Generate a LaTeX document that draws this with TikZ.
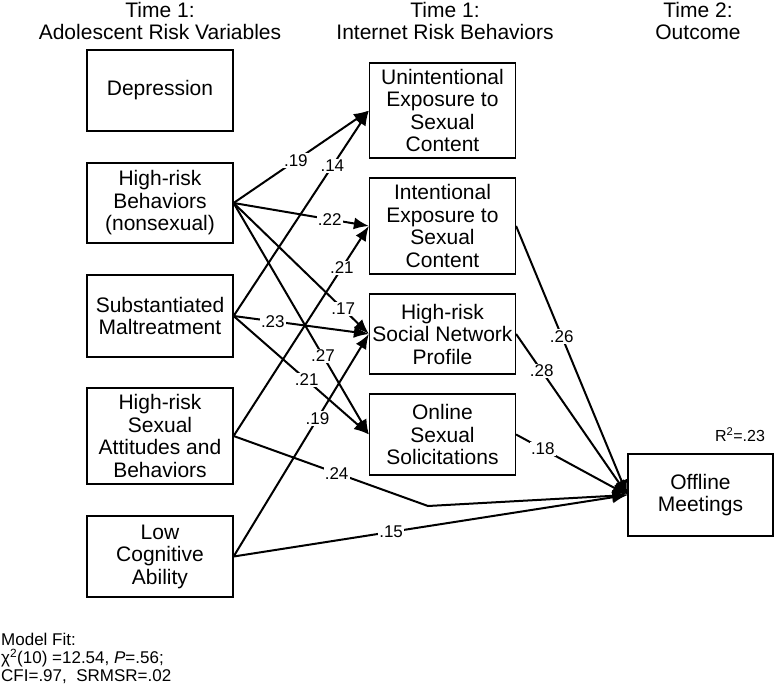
\documentclass[tikz,border=0pt]{standalone}
\usepackage{fontspec}
\setmainfont{Liberation Sans}
\usetikzlibrary{arrows.meta}

\tikzset{
  var/.style={draw, line width=1.2pt, align=center, inner sep=0pt, minimum width=146pt, font=\fontsize{21}{22.5}\selectfont},
  hdr/.style={align=center, inner sep=0pt, font=\fontsize{21}{22.5}\selectfont},
  coef/.style={fill=white, inner sep=1.2pt, font=\fontsize{17}{19}\selectfont},
  arr/.style={line width=2pt, -{Latex[length=15pt,width=12pt]}}
}

\begin{document}
\begin{tikzpicture}[x=1pt, y=-1pt]
\useasboundingbox (0,0) rectangle (777,690);

\node[hdr] (h1) at (160,21) {Time 1:\\Adolescent Risk Variables};
\node[hdr] (h2) at (445,21) {Time 1:\\Internet Risk Behaviors};
\node[hdr] (h3) at (698,21) {Time 2:\\Outcome};

\node[var, minimum height=81pt] (dep) at (160,90.5) {Depression};
\node[var, minimum height=80pt] (beh) at (160,203) {High-risk\\Behaviors\\(nonsexual)};
\node[var, minimum height=82pt] (mal) at (160,316) {Substantiated\\Maltreatment};
\node[var, minimum height=96pt] (sex) at (160,436) {High-risk\\Sexual\\Attitudes and\\Behaviors};
\node[var, minimum height=81pt] (cog) at (160,556.5) {Low\\Cognitive\\Ability};

\node[var, minimum height=95pt] (une) at (442.5,110.5) {Unintentional\\Exposure to\\Sexual\\Content};
\node[var, minimum height=96pt] (ine) at (442.5,226) {Intentional\\Exposure to\\Sexual\\Content};
\node[var, minimum height=80pt] (snp) at (442.5,334) {High-risk\\Social Network\\Profile};
\node[var, minimum height=81pt] (sol) at (442.5,434.5) {Online\\Sexual\\Solicitations};

\node[var, minimum width=145pt, minimum height=82pt] (off) at (700.5,495) {Offline\\Meetings};
\node[font=\fontsize{16}{18}\selectfont] (rsq) at (740,435) {R\textsuperscript{2}=.23};

\coordinate (b24) at (428,506);

\foreach \a/\b/\p/\w in {beh/une/.46/.19, mal/une/.73/.14, beh/ine/.71/.22, sex/ine/.8/.21,
  beh/snp/.81/.17, mal/snp/.29/.23, beh/sol/.66/.27, mal/sol/.54/.21, cog/snp/.62/.19,
  cog/off/.4/.15, ine/off/.41/.26, snp/off/.23/.28, sol/off/.24/.18}
{ \draw[arr] (\a.east) -- node[coef, pos=\p] {\w} (\b.west); }

\draw[arr] (sex.east) -- node[coef, pos=.53] {.24} (b24) -- (off.west);

\node[anchor=north west, align=left, inner sep=0pt, font=\fontsize{17}{18}\selectfont] (fit) at (1,633)
  {Model Fit:\\χ\textsuperscript{2}(10) =12.54, \textit{P}=.56;\\CFI=.97,\ \ SRMSR=.02};

\end{tikzpicture}
\end{document}
